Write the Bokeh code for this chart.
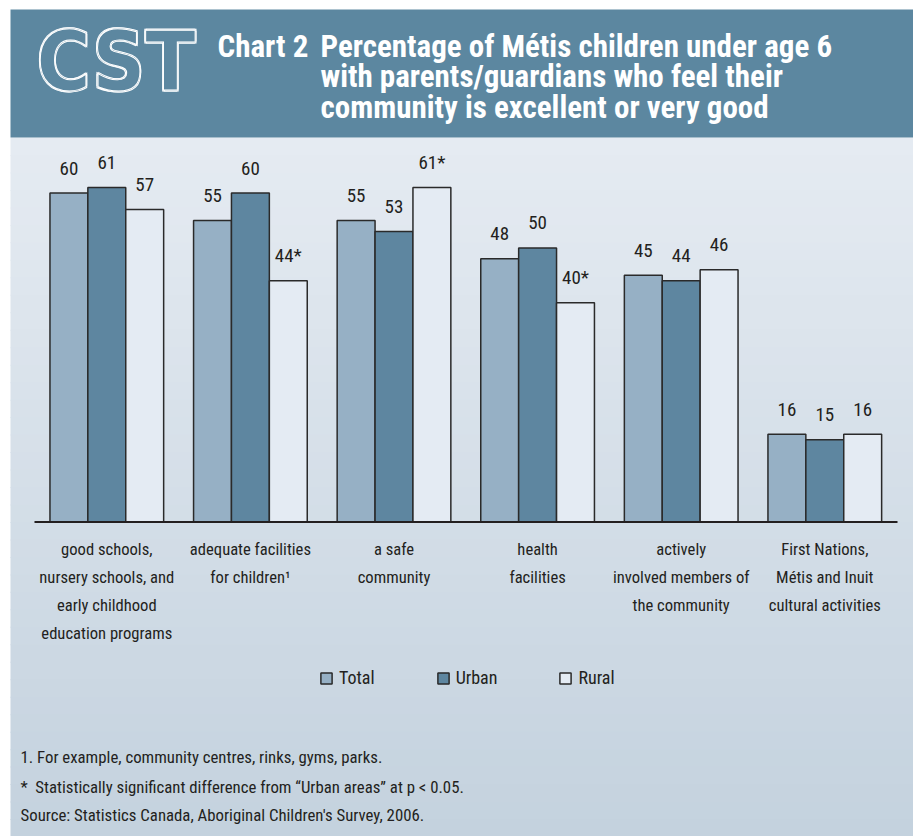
import numpy as np
from bokeh.plotting import figure
from bokeh.models import Range1d, ColumnDataSource, Legend, LegendItem
from bokeh.transform import dodge
from bokeh.core.properties import value
from bokeh.embed import file_html
from bokeh.resources import INLINE

# ---------------- data ----------------
categories = [
    "good schools,\nnursery schools, and\nearly childhood\neducation programs",
    "adequate facilities\nfor children\u00b9",
    "a safe\ncommunity",
    "health\nfacilities",
    "actively\ninvolved members of\nthe community",
    "First Nations,\nM\u00e9tis and Inuit\ncultural activities",
]
series = ["Total", "Urban", "Rural"]
total = [60, 55, 55, 48, 45, 16]
urban = [61, 60, 53, 50, 44, 15]
rural = [57, 44, 61, 40, 46, 16]
total_labels = ["60", "55", "55", "48", "45", "16"]
urban_labels = ["61", "60", "53", "50", "44", "15"]
rural_labels = ["57", "44*", "61*", "40*", "46", "16"]

title_lead = "Chart 2"
title_text = ("Percentage of M\u00e9tis children under age 6\n"
              "with parents/guardians who feel their\n"
              "community is excellent or very good")
footnotes = [
    "1. For example, community centres, rinks, gyms, parks.",
    "*\u2002Statistically significant difference from \u201cUrban areas\u201d at p < 0.05.",
    "Source: Statistics Canada, Aboriginal Children's Survey, 2006.",
]

# ---------------- style ----------------
W, H = 913, 836
FNAME = "Roboto Condensed, DejaVu Sans Condensed"
FONT = value(FNAME)
TXT = "#231f20"
bar_colors = ["#96b0c5", "#5e86a0", "#e4ebf3"]
header_color = "#5c87a0"

p = figure(width=W, height=H, output_backend="svg", toolbar_location=None,
           x_range=Range1d(-0.7403, 5.6177), y_range=Range1d(-57.37, 95.13),
           min_border=0, min_border_left=0, min_border_right=0,
           min_border_top=0, min_border_bottom=0)
p.axis.visible = False
p.grid.visible = False
p.outline_line_color = None
p.background_fill_color = "white"
p.border_fill_color = "white"
p.extra_x_ranges = {"px": Range1d(0, W)}
p.extra_y_ranges = {"px": Range1d(H, 0)}

# background panel with vertical gradient
top_rgb = np.array([0xe5, 0xeb, 0xf2])
bot_rgb = np.array([0xc4, 0xd2, 0xde])
edges = np.linspace(137, H, 41)
cols = []
for k in range(len(edges) - 1):
    t = k / (len(edges) - 2)
    c = (top_rgb * (1 - t) + bot_rgb * t).round().astype(int)
    cols.append("#%02x%02x%02x" % tuple(c))
p.quad(left=10, right=W, top=edges[:-1], bottom=edges[1:] + 1, fill_color=cols,
       line_color=None, x_range_name="px", y_range_name="px")

# header band
p.quad(left=[10], right=[W], top=[9], bottom=[137], fill_color=header_color,
       line_color=None, x_range_name="px", y_range_name="px")
for dx, dy in [(-0.8, -0.8), (0.8, -0.8), (-0.8, 0.8), (0.8, 0.8), (0, 0)]:
    p.text(x=[36], y=[61], text=["CST"], text_font=value("DejaVu Sans Condensed"),
           text_font_style="bold", text_font_size="82px", text_color=header_color,
           text_outline_color="white", text_baseline="alphabetic",
           x_offset=dx, y_offset=dy, x_range_name="px", y_range_name="px")
p.text(x=[217], y=[27], text=[title_lead], text_font=FONT, text_font_style="bold",
       text_font_size="31px", text_color="white", text_baseline="top",
       x_range_name="px", y_range_name="px")
p.text(x=[320], y=[27], text=[title_text], text_font=FONT, text_font_style="bold",
       text_font_size="31px", text_color="white", text_baseline="top",
       text_line_height=0.83, x_range_name="px", y_range_name="px")

# bars
src = ColumnDataSource(dict(x=list(range(len(categories))), cat=categories,
                            total=total, urban=urban, rural=rural,
                            tl=total_labels, ul=urban_labels, rl=rural_labels))
offs = [-0.2639, 0.0, 0.2639]
cols_key = ["total", "urban", "rural"]
lbl_key = ["tl", "ul", "rl"]
renderers = []
for s, key, lk, off, c in zip(series, cols_key, lbl_key, offs, bar_colors):
    r = p.vbar(x=dodge("x", off), top=key, bottom=0, width=0.2639, source=src,
               fill_color=c, line_color="#2a2a2a", line_width=1.5)
    renderers.append(r)
    p.text(x=dodge("x", off), y=key, text=lk, source=src, text_font=FONT,
           text_font_size="19px", text_color=TXT, text_align="center",
           text_baseline="alphabetic", y_offset=-25)

# baseline
p.segment(x0=[34], x1=[897], y0=[521.5], y1=[521.5], line_color="#231f20",
          line_width=2, x_range_name="px", y_range_name="px")

# category labels
p.text(x="x", y=539, text="cat", source=src, text_font=FONT, text_font_size="16.6px",
       text_color=TXT, text_align="center", text_baseline="top",
       text_line_height=1.49, y_range_name="px")

# legend
legend = Legend(items=[LegendItem(label=s, renderers=[r]) for s, r in zip(series, renderers)],
                orientation="horizontal", location=(319, 148), spacing=61,
                glyph_width=14, glyph_height=14, label_standoff=6, padding=0, margin=0,
                background_fill_alpha=0, border_line_color=None,
                label_text_font=FNAME, label_text_font_size="18px",
                label_text_color=TXT)
p.add_layout(legend)

# footnotes
p.text(x=20, y=[746, 776, 804], text=footnotes, text_font=FONT, text_font_size="16.8px",
       text_color=TXT, text_baseline="top", x_range_name="px", y_range_name="px")

open("out.html", "w").write(file_html(p, INLINE))
